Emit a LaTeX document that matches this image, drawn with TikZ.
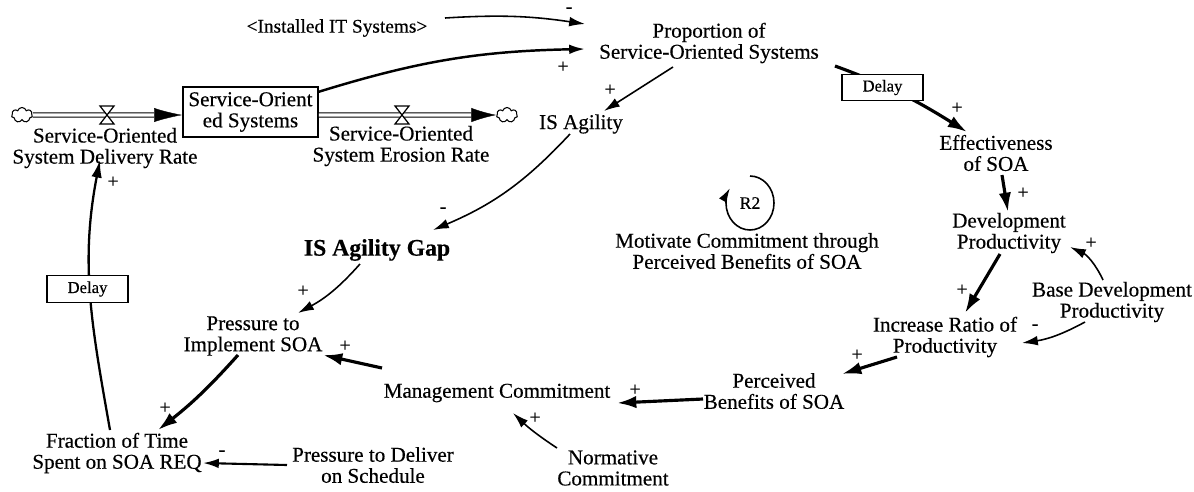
\documentclass[tikz,border=0pt]{standalone}
\usepackage{fontspec}
\setmainfont{Liberation Serif}[FakeBold=0.4]
\usetikzlibrary{arrows.meta,calc,shapes.symbols}
\tikzset{
  var/.style={align=center, inner sep=1pt, font=\fontsize{12}{12}\selectfont},
  bigvar/.style={align=center, inner sep=1pt, font=\fontsize{13.5}{14}\selectfont\bfseries},
  smallvar/.style={align=center, inner sep=1pt, font=\fontsize{11}{12}\selectfont},
  stockbox/.style={draw, line width=0.9pt, align=center, inner sep=1pt,
    minimum width=2.7cm, minimum height=1cm, font=\fontsize{12}{12}\selectfont},
  delaybox/.style={draw, fill=white, line width=0.8pt, inner sep=0pt,
    minimum width=1.62cm, minimum height=0.53cm, font=\fontsize{9.5}{10}\selectfont},
  sourcecloud/.style={cloud, cloud puffs=7, draw, line width=0.6pt, inner sep=0pt,
    minimum width=0.42cm, minimum height=0.3cm},
  pipe/.style={double, double distance=1.8pt, line width=0.6pt},
  pipetip/.style={white, line width=0.2pt},
  lk/.style={line width=0.9pt, -{Latex[length=9pt,width=5.5pt]}},
  lkb/.style={line width=1.8pt, -{Latex[length=11pt,width=7pt]}},
  sgn/.style={inner sep=0pt, font=\fontsize{11}{11}\selectfont},
  valve/.pic={\draw[fill=white, line width=0.7pt]
    (-7,9) -- (7,9) -- (0,0) -- cycle (-7,-9) -- (7,-9) -- (0,0) -- cycle;}
}
\begin{document}
\begin{tikzpicture}[x=0.02cm, y=0.02cm]
\useasboundingbox (0,0) rectangle (1194,-491);

% variables
\node[smallvar] (inst) at (337,-28) {<Installed IT Systems>};
\node[var] (prop) at (709,-43) {Proportion of\\Service-Oriented Systems};
\node[stockbox] (stock) at (250.5,-112) {Service-Orient\\ed Systems};
\node[sourcecloud] (cl) at (22,-115) {};
\node[sourcecloud] (cr) at (507,-115) {};
\node[var] (deliv) at (105,-148) {Service-Oriented\\System Delivery Rate};
\node[var] (eros) at (401,-146) {Service-Oriented\\System Erosion Rate};
\node[var] (isag) at (581,-124) {IS Agility};
\node[bigvar] (gap) at (377,-250) {IS Agility Gap};
\node[var] (pim) at (253,-336) {Pressure to\\Implement SOA};
\node[var] (mc) at (497,-393) {Management Commitment};
\node[var] (pb) at (774,-391) {Perceived\\Benefits of SOA};
\node[var] (nc) at (613,-468) {Normative\\Commitment};
\node[var] (pds) at (373,-465) {Pressure to Deliver\\on Schedule};
\node[var] (frac) at (117,-453) {Fraction of Time\\Spent on SOA REQ};
\node[var] (eff) at (996,-153) {Effectiveness\\of SOA};
\node[var] (dev) at (1009,-233) {Development\\Productivity};
\node[var] (inc) at (945,-337) {Increase Ratio of\\Productivity};
\node[var] (base) at (1112,-302) {Base Development\\Productivity};
\node[var] (motive) at (747,-251) {Motivate Commitment through\\Perceived Benefits of SOA};

% stock and flows
\draw[pipe, shorten >=16pt] (cl.east) -- ($(stock.west)+(0,-3)$);
\draw[pipetip, -{Latex[color=black,length=16pt,width=8pt]}] (cl.east) -- ($(stock.west)+(0,-3)$);
\draw[pipe, shorten >=14pt] ($(stock.east)+(0,-3)$) -- (cr.west);
\draw[pipetip, -{Latex[color=black,length=14pt,width=8pt]}] ($(stock.east)+(0,-3)$) -- (cr.west);
\pic (vl) at (107,-115) {valve};
\pic (vr) at (402,-115) {valve};

% causal links
\draw[lk] ($(inst)+(108,10)$) to[bend left=6] ($(prop)+(-124,19)$);
\draw[lk, line width=1.4pt] ($(stock)+(67.5,20)$) to[bend left=8] ($(prop)+(-124,-6)$);
\draw[lk] ($(prop)+(-36,-24)$) -- ($(isag)+(23,13)$);
\draw[lk] ($(isag)+(-11,-10)$) to[bend left=12] ($(gap)+(56,20)$);
\draw[lk] ($(gap)+(-17,-14)$) to[bend left=10] ($(pim)+(45,23)$);
\draw[lkb] ($(mc)+(-115,25)$) -- ($(pim)+(70,-19)$);
\draw[lkb] ($(pim)+(-15,-19)$) to[bend left=5] ($(frac)+(41,23)$);
\draw[lk, line width=1.2pt] ($(pds)+(-86,0)$) -- ($(frac)+(86,-10)$);
\draw[lk, line width=1.3pt, -{Latex[length=10pt,width=6pt]}] ($(frac)+(-7,23)$) to[out=100, in=-101] ($(deliv)+(-5,-12)$);
\node[delaybox] (dl1) at (87.5,-289) {Delay};
\draw[lkb] ($(prop)+(126,-23)$) to[out=-20, in=148] ($(eff)+(-29,21)$);
\node[delaybox] (dl2) at (882.5,-87.5) {Delay};
\draw[lkb] ($(eff)+(6,-22)$) -- ($(dev)+(-1,21)$);
\draw[lkb] ($(dev)+(-9,-21)$) -- ($(inc)+(20,24)$);
\draw[lk] ($(base)+(-9,22)$) to[bend right=20] ($(dev)+(61,-14)$);
\draw[lk] ($(base)+(-27,-20)$) to[bend left=10] ($(inc)+(77,-6)$);
\draw[lkb] ($(inc)+(-48,-20)$) -- ($(pb)+(68,17)$);
\draw[lkb] ($(pb)+(-71,-8)$) -- ($(mc)+(120,-10)$);
\draw[lk] ($(nc)+(-56,20)$) to[bend left=5] ($(mc)+(16,-20)$);

% loop marker
\coordinate (r2c) at (750,-203);
\draw[line width=0.9pt, -{Latex[length=8pt,width=5pt]}] ($(r2c)+(0,27)$)
  arc[start angle=90, end angle=-213, x radius=24, y radius=27];
\node[font=\fontsize{10}{10}\selectfont, inner sep=0pt] (r2) at (r2c) {R2};

% polarities
\node[sgn] (s1) at (569,-10) {-};
\node[sgn] (s2) at (563,-67) {+};
\node[sgn] (s3) at (610,-90) {+};
\node[sgn] (s4) at (443,-210) {-};
\node[sgn] (s5) at (303,-291) {+};
\node[sgn] (s6) at (345,-346) {+};
\node[sgn] (s7) at (165,-408) {+};
\node[sgn] (s8) at (222,-453) {-};
\node[sgn] (s9) at (113,-182) {+};
\node[sgn] (s10) at (957,-108) {+};
\node[sgn] (s11) at (1023,-193) {+};
\node[sgn] (s12) at (962,-290) {+};
\node[sgn] (s13) at (1091,-243) {+};
\node[sgn] (s14) at (1035,-327) {-};
\node[sgn] (s15) at (857,-355) {+};
\node[sgn] (s16) at (635,-390) {+};
\node[sgn] (s17) at (535,-418) {+};
\end{tikzpicture}
\end{document}
